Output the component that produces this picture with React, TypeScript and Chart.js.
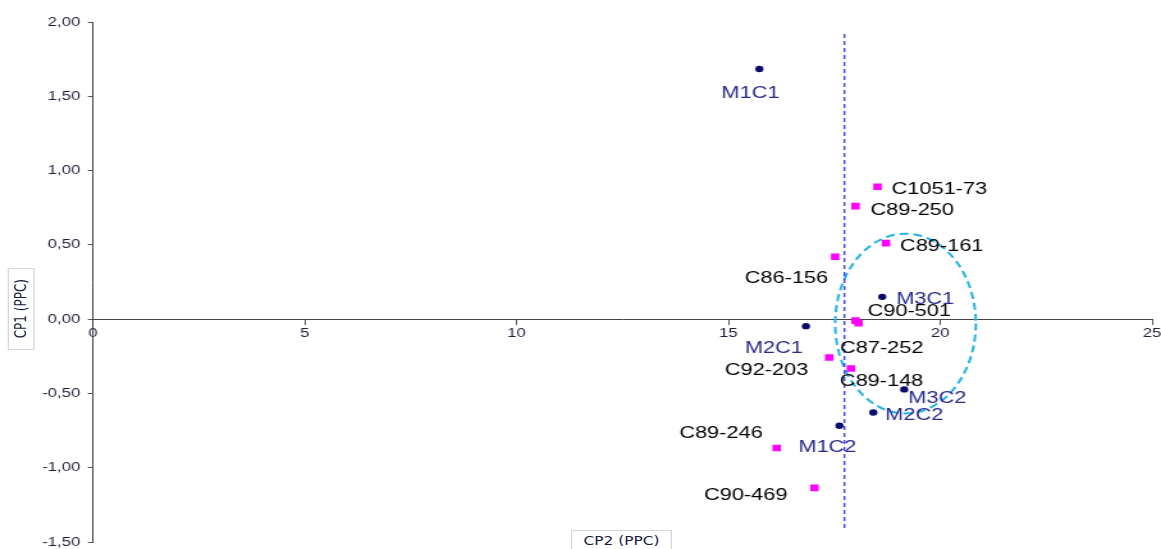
import React, { useEffect, useRef } from "react";
import { Chart, registerables } from "chart.js";

Chart.register(...registerables);

// ---------- data ----------
const mLabels = ["M1C1", "M3C1", "M2C1", "M3C2", "M2C2", "M1C2"];
const mCP2 = [15.73, 18.63, 16.83, 19.15, 18.42, 17.62];
const mCP1 = [1.684, 0.15, -0.047, -0.473, -0.628, -0.718];

const cLabels = [
  "C1051-73", "C89-250", "C89-161", "C86-156", "C90-501", "C87-252",
  "C92-203", "C89-148", "C89-246", "C90-469",
];
const cCP2 = [18.52, 18.0, 18.72, 17.52, 18.0, 18.07, 17.38, 17.89, 16.14, 17.03];
const cCP1 = [0.891, 0.761, 0.512, 0.42, -0.01, -0.027, -0.258, -0.332, -0.867, -1.136];

const refLineCP2 = 17.74;
const refLineCP1 = [1.92, -1.42];

const ellipseCenter = [19.18, -0.03]; // CP2, CP1
const ellipseRadii = [1.66, 0.605];

const xTicks = [0, 5, 10, 15, 20, 25];
const yTicks = [-1.5, -1.0, -0.5, 0, 0.5, 1.0, 1.5, 2.0];

// ---------- label placement (style) ----------
const LABEL_DY = 2;
const mLabelPos: [CanvasTextAlign, number, number][] = [
  ["center", -9, 22],
  ["left", 14, 0],
  ["right", -3, 20],
  ["left", 4, 7],
  ["left", 12, 1],
  ["center", -12, 19],
];
const cLabelPos: [CanvasTextAlign, number, number][] = [
  ["left", 14, 1],
  ["left", 15, 2],
  ["left", 14, 1],
  ["right", -7, 20],
  ["left", 12, -11],
  ["left", -18.5, 23],
  ["right", -21, 11],
  ["left", -11, 11],
  ["right", -14, -17],
  ["right", -27, 5],
];

const W = 907;
const H = 549;
const SX = 1161 / W;

const NAVY = "#0b0b6e";
const NAVY_TEXT = "#2a2a8c";
const MAGENTA = "#ff00ff";

const decor = {
  id: "decor",
  beforeDatasetsDraw(chart: any) {
    const { ctx, scales } = chart;
    const x = scales.x, y = scales.y;
    const cx = x.getPixelForValue(ellipseCenter[0]);
    const cy = y.getPixelForValue(ellipseCenter[1]);
    const rx = Math.abs(x.getPixelForValue(ellipseCenter[0] + ellipseRadii[0]) - cx);
    const ry = Math.abs(y.getPixelForValue(ellipseCenter[1] + ellipseRadii[1]) - cy);
    ctx.save();
    ctx.strokeStyle = "#22b4e6";
    ctx.lineWidth = 2;
    ctx.setLineDash([7, 4]);
    ctx.beginPath();
    ctx.ellipse(cx, cy, rx, ry, 0, 0, Math.PI * 2);
    ctx.stroke();
    ctx.restore();
  },
  afterDatasetsDraw(chart: any) {
    const { ctx, scales } = chart;
    const x = scales.x, y = scales.y;
    ctx.save();
    ctx.font = '17px "Liberation Sans", Arial, sans-serif';
    ctx.textBaseline = "middle";
    const draw = (labels: string[], xs: number[], ys: number[], pos: any[], color: string) => {
      ctx.fillStyle = color;
      labels.forEach((lab, i) => {
        const px = x.getPixelForValue(xs[i]);
        const py = y.getPixelForValue(ys[i]);
        const [align, dx, dy] = pos[i];
        ctx.textAlign = align;
        ctx.fillText(lab, px + dx / SX, py + dy + LABEL_DY);
      });
    };
    draw(mLabels, mCP2, mCP1, mLabelPos, NAVY_TEXT);
    draw(cLabels, cCP2, cCP1, cLabelPos, "#000000");
    ctx.restore();
  },
};

export default function App() {
  const ref = useRef<HTMLCanvasElement | null>(null);

  useEffect(() => {
    if (!ref.current) return;
    const chart = new Chart(ref.current, {
      type: "scatter",
      data: {
        datasets: [
          {
            type: "line",
            data: refLineCP1.map((v) => ({ x: refLineCP2, y: v })),
            borderColor: "#1f1fff",
            borderWidth: 1.2,
            borderDash: [4, 3],
            pointRadius: 0,
            showLine: true,
            fill: false,
          } as any,
          {
            data: cCP2.map((v, i) => ({ x: v, y: cCP1[i] })),
            pointStyle: "rect",
            pointRadius: 4.7,
            pointBorderWidth: 0,
            borderWidth: 0,
            backgroundColor: MAGENTA,
            pointBackgroundColor: MAGENTA,
          },
          {
            data: mCP2.map((v, i) => ({ x: v, y: mCP1[i] })),
            pointStyle: "circle",
            pointRadius: 3.2,
            pointBorderWidth: 0,
            borderWidth: 0,
            backgroundColor: NAVY,
            pointBackgroundColor: NAVY,
          },
        ],
      },
      options: {
        animation: false,
        responsive: false,
        events: [],
        layout: { padding: { left: 0, right: 7, top: 22, bottom: 7 } },
        plugins: { legend: { display: false }, tooltip: { enabled: false } },
        scales: {
          x: {
            type: "linear",
            min: xTicks[0],
            max: xTicks[xTicks.length - 1],
            position: { y: 0 } as any,
            afterBuildTicks: (s: any) => {
              s.ticks = xTicks.map((v) => ({ value: v }));
            },
            afterFit: (s: any) => {
              s.paddingLeft = 0;
              s.paddingRight = 0;
            },
            ticks: {
              color: "#1f1f3a",
              font: { family: '"Liberation Sans", Arial, sans-serif', size: 13 },
              padding: 1,
              maxRotation: 0,
              callback: (v: any) => String(v),
            },
            grid: { drawOnChartArea: false, drawTicks: true, tickLength: 5, color: "#555" },
            border: { display: true, color: "#444", width: 1 },
          },
          y: {
            type: "linear",
            min: yTicks[0],
            max: yTicks[yTicks.length - 1],
            position: "left",
            afterFit: (s: any) => {
              s.width = 93 / SX;
              s.paddingTop = 0;
              s.paddingBottom = 0;
            },
            afterBuildTicks: (s: any) => {
              s.ticks = yTicks.map((v) => ({ value: v }));
            },
            ticks: {
              color: "#1f1f3a",
              font: { family: '"Liberation Sans", Arial, sans-serif', size: 13 },
              padding: 6,
              callback: (v: any) => Number(v).toFixed(2).replace(".", ","),
            },
            grid: { drawOnChartArea: false, drawTicks: true, tickLength: 4, color: "#555" },
            border: { display: true, color: "#444", width: 1 },
          },
        },
      },
      plugins: [decor],
    });
    return () => chart.destroy();
  }, []);

  const titleFont = '12px "DejaVu Sans", Verdana, sans-serif';

  return (
    <div
      style={{
        position: "fixed",
        left: 0,
        top: 0,
        width: W,
        height: H,
        overflow: "hidden",
        transform: `scaleX(${SX})`,
        transformOrigin: "0 0",
        background: "#fff",
      }}
    >
      <canvas ref={ref} width={W} height={H} style={{ position: "absolute", left: 0, top: 0 }} />
      <div
        style={{
          position: "absolute",
          left: 5.5,
          top: 268,
          width: 19,
          height: 80,
          border: "1px solid #d6d6d6",
          display: "flex",
          alignItems: "center",
          justifyContent: "center",
          font: titleFont,
          color: "#1a1a40",
          background: "#fff",
        }}
      >
        <span style={{ writingMode: "vertical-rl", transform: "rotate(180deg)", whiteSpace: "nowrap" }}>
          CP1 (PPC)
        </span>
      </div>
      <div
        style={{
          position: "absolute",
          left: 446,
          top: 530,
          width: 79,
          height: 30,
          border: "1px solid #d6d6d6",
          font: titleFont,
          color: "#1a1a40",
          textAlign: "center",
          paddingTop: 3,
          boxSizing: "border-box",
          background: "#fff",
          whiteSpace: "nowrap",
        }}
      >
        CP2 (PPC)
      </div>
    </div>
  );
}
